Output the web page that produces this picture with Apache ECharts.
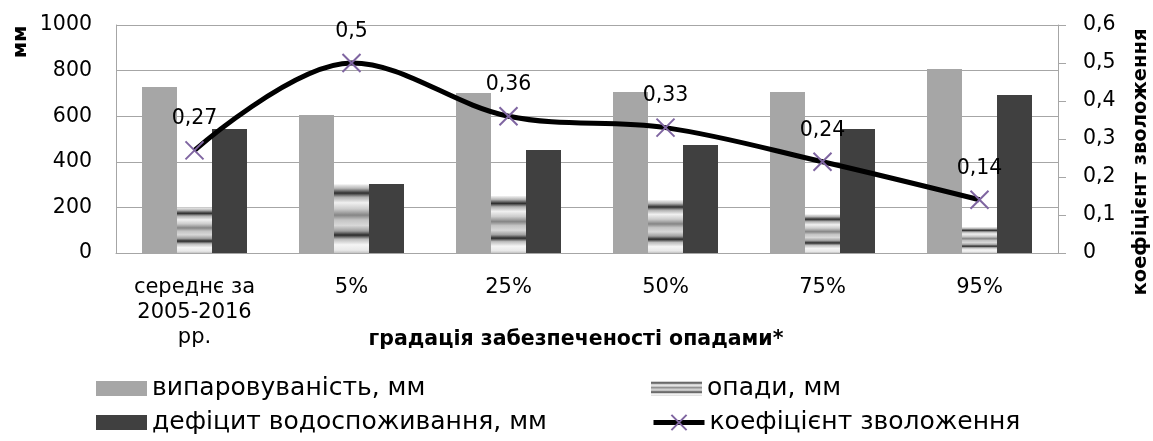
<!DOCTYPE html>
<html>
<head>
<meta charset="utf-8">
<script src="https://cdn.jsdelivr.net/npm/echarts@6/dist/echarts.min.js"></script>
<style>
  html, body { margin: 0; padding: 0; background: #fff; }
  #chart { width: 1153px; height: 441px; }
</style>
</head>
<body>
<div id="chart"></div>
<script>
// Categories: precipitation-probability gradations
const categories = ['середнє за\n2005-2016\nрр.', '5%', '25%', '50%', '75%', '95%'];

// Water balance components, mm
const evaporation = [728, 605, 702, 706, 706, 807];
const precipitation = [200, 302, 250, 232, 170, 114];
const deficit = [544, 303, 452, 474, 544, 693];

// Moistening coefficient (right axis)
const moisture = [0.27, 0.5, 0.36, 0.33, 0.24, 0.14];

// Axis tick settings
const mmTicks = { min: 0, max: 1000, interval: 200 };
const coefTicks = { min: 0, max: 0.6, interval: 0.1 };

const seriesNames = ['випаровуваність, мм', 'опади, мм', 'дефіцит водоспоживання, мм', 'коефіцієнт зволоження'];
const xTitle = 'градація забезпеченості опадами*';
const yLeftTitle = 'мм';
const yRightTitle = 'коефіцієнт зволоження';

const FONT = 'DejaVu Sans';
const comma = v => String(v).replace('.', ',');

// Banded texture for the precipitation bars, stretched over each bar
const bandFill = {
  type: 'linear', x: 0, y: 0, x2: 0, y2: 1,
  colorStops: [
    { offset: 0.00, color: '#f2f2f2' },
    { offset: 0.06, color: '#b8b8b8' },
    { offset: 0.13, color: '#2e2e2e' },
    { offset: 0.19, color: '#b0b0b0' },
    { offset: 0.27, color: '#f0f0f0' },
    { offset: 0.36, color: '#cccccc' },
    { offset: 0.45, color: '#858585' },
    { offset: 0.52, color: '#c4c4c4' },
    { offset: 0.60, color: '#d8d8d8' },
    { offset: 0.68, color: '#a0a0a0' },
    { offset: 0.74, color: '#2a2a2a' },
    { offset: 0.80, color: '#bcbcbc' },
    { offset: 0.88, color: '#f5f5f5' },
    { offset: 0.96, color: '#e8e8e8' },
    { offset: 1.00, color: '#c4c4c4' }
  ]
};

const chart = echarts.init(document.getElementById('chart'), null, { renderer: 'canvas' });

const legendText = { fontFamily: FONT, fontSize: 25, color: '#000' };
const legendBase = { itemWidth: 51, itemHeight: 15, itemGap: 0, textStyle: legendText, selectedMode: false, padding: 0 };

const option = {
  animation: false,
  textStyle: { fontFamily: FONT },
  grid: { left: 116, right: 95, top: 25, bottom: 188, containLabel: false },
  legend: [
    Object.assign({ data: [{ name: seriesNames[0], icon: 'rect' }], left: 96, top: 376 }, legendBase),
    Object.assign({ data: [{ name: seriesNames[1], icon: 'rect' }], left: 651, top: 376 }, legendBase),
    Object.assign({ data: [{ name: seriesNames[2], icon: 'rect' }], left: 96, top: 410 }, legendBase),
    Object.assign({}, legendBase, { data: [seriesNames[3]], left: 651, top: 410, itemHeight: 19, lineStyle: { width: 5 } })
  ],
  xAxis: {
    type: 'category',
    data: categories,
    axisLine: { lineStyle: { color: '#a6a6a6', width: 1 } },
    axisTick: { show: false },
    axisLabel: { fontFamily: FONT, fontSize: 21, color: '#000', margin: 22, lineHeight: 25, interval: 0 }
  },
  yAxis: [
    {
      type: 'value', min: mmTicks.min, max: mmTicks.max, interval: mmTicks.interval,
      axisLine: { show: true, lineStyle: { color: '#a6a6a6' } },
      axisTick: { show: false },
      splitLine: { lineStyle: { color: '#a6a6a6' } },
      axisLabel: { fontFamily: FONT, fontSize: 20.5, color: '#000', margin: 24, formatter: v => String(v) }
    },
    {
      type: 'value', position: 'right', min: coefTicks.min, max: coefTicks.max, interval: coefTicks.interval,
      axisLine: { show: true, lineStyle: { color: '#a6a6a6' } },
      axisTick: { show: true, inside: false, length: 8, lineStyle: { color: '#a6a6a6' } },
      splitLine: { show: false },
      axisLabel: { fontFamily: FONT, fontSize: 20.5, color: '#000', margin: 25, formatter: comma }
    }
  ],
  series: [
    {
      name: seriesNames[0], type: 'bar', data: evaporation, barWidth: 35, barGap: '0%',
      itemStyle: { color: '#a6a6a6' }
    },
    {
      name: seriesNames[1], type: 'bar', data: precipitation, barWidth: 35, barGap: '0%',
      itemStyle: { color: bandFill }
    },
    {
      name: seriesNames[2], type: 'bar', data: deficit, barWidth: 35, barGap: '0%',
      itemStyle: { color: '#404040' }
    },
    {
      name: seriesNames[3], type: 'line', yAxisIndex: 1, data: moisture,
      smooth: 0.35,
      symbol: 'path://M0,0L20,20M20,0L0,20',
      symbolSize: 18,
      lineStyle: { color: '#000', width: 5 },
      itemStyle: { color: '#7f65a1', borderColor: '#7f65a1', borderWidth: 2 },
      label: {
        show: true, position: 'top', distance: 11,
        fontFamily: FONT, fontSize: 20.5, color: '#000',
        formatter: p => comma(p.value)
      },
      z: 5
    }
  ],
  graphic: [
    {
      type: 'text', x: 576, y: 340,
      style: { text: xTitle, font: 'bold 20.5px "DejaVu Sans"', fill: '#000', align: 'center', verticalAlign: 'middle' }
    },
    {
      type: 'text', x: 21, y: 42, rotation: Math.PI / 2,
      style: { text: yLeftTitle, font: 'bold 20px "DejaVu Sans"', fill: '#000', align: 'center', verticalAlign: 'middle' }
    },
    {
      type: 'text', x: 1141, y: 162, rotation: Math.PI / 2,
      style: { text: yRightTitle, font: 'bold 19.5px "DejaVu Sans"', fill: '#000', align: 'center', verticalAlign: 'middle' }
    }
  ]
};

chart.setOption(option);
</script>
</body>
</html>
